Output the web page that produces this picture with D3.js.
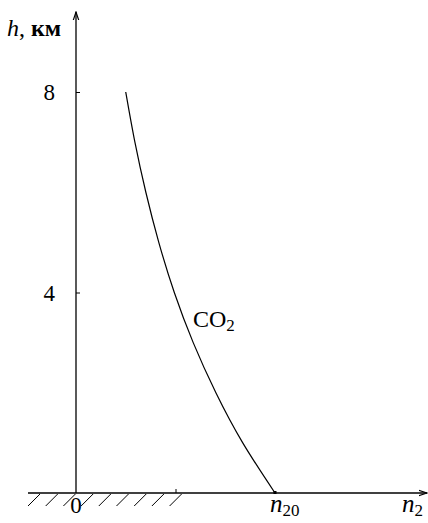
<!DOCTYPE html>
<html>
<head>
<meta charset="utf-8">
<script src="https://cdn.jsdelivr.net/npm/d3@7"></script>
<style>
  body { margin: 0; background: #fff; }
  text { font-family: "Liberation Serif", "Times New Roman", serif; fill: #000; }
</style>
</head>
<body>
<script>
// profil de concentration du CO2 (n2 / n20) selon l'altitude h, km
const hKm = [0, 1, 2, 3, 4, 5, 6, 7, 8]
const nRatio = [1.0, 0.838, 0.703, 0.589, 0.494, 0.416, 0.351, 0.296, 0.25]
const hTicks = [4, 8]
const nTicks = [0.5]

const W = 428, H = 523

const svg = d3.select("body")
        .append("svg")
        .attr("width", W)
        .attr("height", H)

const x = d3.scaleLinear().domain([0, 1]).range([76, 275])
const y = d3.scaleLinear().domain([0, 8]).range([493, 92])

// flèche des axes
svg.append("defs").append("marker")
        .attr("id", "arrow")
        .attr("viewBox", "0 0 10 10")
        .attr("refX", 9).attr("refY", 5)
        .attr("markerWidth", 7).attr("markerHeight", 7)
        .attr("orient", "auto")
        .append("path")
        .attr("d", "M0,2 L9,5 L0,8")
        .attr("fill", "none")
        .attr("stroke", "#000")
        .attr("stroke-width", 1.3)

// axe h
svg.append("line")
        .attr("x1", x(0)).attr("y1", y(0))
        .attr("x2", x(0)).attr("y2", 12)
        .attr("stroke", "#000").attr("stroke-width", 1.3)
        .attr("marker-end", "url(#arrow)")

// axe n2
svg.append("line")
        .attr("x1", 28).attr("y1", y(0))
        .attr("x2", 427).attr("y2", y(0))
        .attr("stroke", "#000").attr("stroke-width", 1.3)
        .attr("marker-end", "url(#arrow)")

const yAxis = svg.append("g")
        .attr("transform", `translate(${x(0)},0)`)
        .call(d3.axisRight(y).tickValues(hTicks).tickSize(4).tickFormat(""))
yAxis.select(".domain").remove()

svg.append("g").selectAll("text")
        .data(hTicks)
        .enter()
        .append("text")
                .attr("x", x(0) - 21)
                .attr("y", d => y(d) + 8)
                .attr("text-anchor", "end")
                .style("font-size", "23px")
                .text(d => d)

const xAxis = svg.append("g")
        .attr("transform", `translate(0,${y(0)})`)
        .call(d3.axisTop(x).tickValues(nTicks).tickSize(4).tickFormat(""))
xAxis.select(".domain").remove()

// hachures du sol
const hatch = d3.range(28, 172, 17.7)
svg.append("g").selectAll("line")
        .data(hatch)
        .enter()
        .append("line")
                .attr("x1", d => d).attr("y1", y(0) + 13)
                .attr("x2", d => d + 12).attr("y2", y(0) + 1)
                .attr("stroke", "#000").attr("stroke-width", 1)

// courbe CO2
const line = d3.line()
        .x((d, i) => x(nRatio[i]))
        .y(d => y(d))
        .curve(d3.curveNatural)

svg.append("path")
        .attr("d", line(hKm))
        .attr("fill", "none")
        .attr("stroke", "#000")
        .attr("stroke-width", 1.2)

svg.append("rect")
        .attr("x", x(1) - 1.5).attr("y", y(0) - 2)
        .attr("width", 3).attr("height", 3)

// textes
svg.append("text")
        .attr("x", x(0)).attr("y", 513)
        .attr("text-anchor", "middle")
        .style("font-size", "23px")
        .text("0")

const labelN20 = svg.append("text")
        .attr("x", 270).attr("y", 512)
        .style("font-size", "25px")
labelN20.append("tspan").style("font-style", "italic").text("n")
labelN20.append("tspan").attr("dy", 4).style("font-size", "17px").text("20")

const labelN2 = svg.append("text")
        .attr("x", 402).attr("y", 512)
        .style("font-size", "25px")
labelN2.append("tspan").style("font-style", "italic").text("n")
labelN2.append("tspan").attr("dy", 4).style("font-size", "17px").text("2")

const labelH = svg.append("text")
        .attr("x", 7).attr("y", 36)
        .style("font-size", "24px")
labelH.append("tspan").style("font-style", "italic").text("h")
labelH.append("tspan").text(", ")
labelH.append("tspan").style("font-weight", "bold").text("км")

const labelCO2 = svg.append("text")
        .attr("x", 193).attr("y", 327)
        .style("font-size", "24px")
labelCO2.append("tspan").text("CO")
labelCO2.append("tspan").attr("dy", 4).style("font-size", "17px").text("2")
</script>
</body>
</html>
